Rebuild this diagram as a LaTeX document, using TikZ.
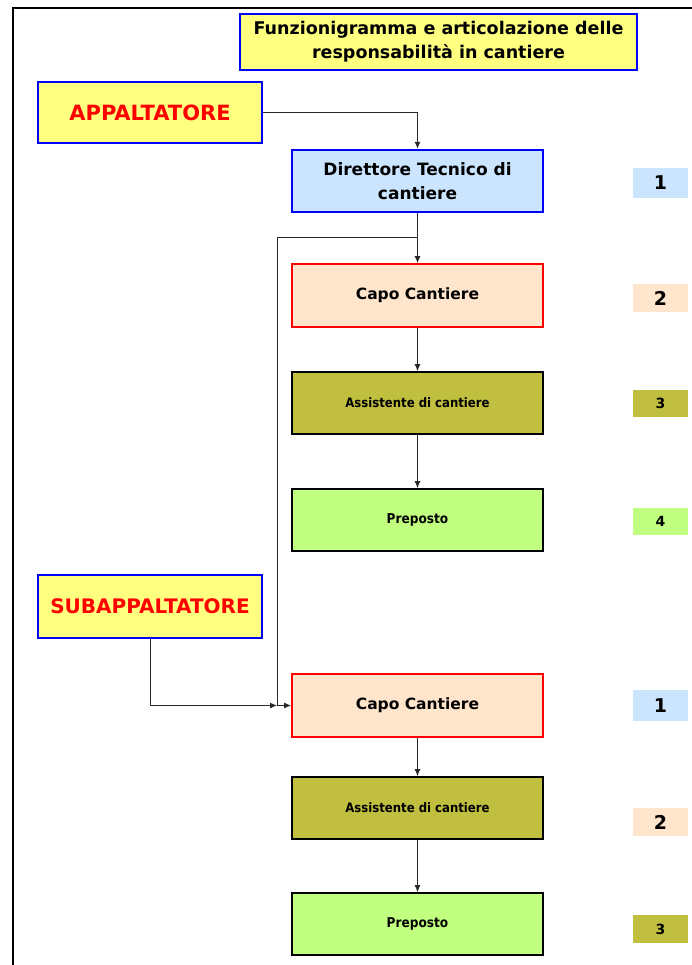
\documentclass[tikz,border=0pt]{standalone}
\usepackage{fontspec}
\setmainfont{DejaVu Sans}
\newfontfamily\condfont{DejaVu Sans Condensed}
\usetikzlibrary{arrows.meta}
\definecolor{ybox}{RGB}{255,255,128}
\definecolor{bblue}{RGB}{0,0,255}
\definecolor{lblue}{RGB}{204,229,255}
\definecolor{peach}{RGB}{255,229,204}
\definecolor{olive}{RGB}{192,191,64}
\definecolor{lgreen}{RGB}{192,255,128}
\definecolor{lnk}{RGB}{40,40,40}
\begin{document}
\begin{tikzpicture}[x=1pt,y=1pt,
  box/.style={draw,minimum width=251pt,minimum height=62pt,inner sep=2pt,align=center,font=\bfseries},
  bluebox/.style={box,draw=bblue,line width=2.6pt,fill=ybox},
  capobox/.style={box,draw=red,line width=1.8pt,fill=peach,minimum height=63pt,font=\bfseries\fontsize{15.5}{18}\selectfont},
  assbox/.style={box,draw=black,line width=1.6pt,fill=olive,font=\condfont\bfseries\fontsize{13}{15}\selectfont},
  prebox/.style={box,draw=black,line width=1.6pt,fill=lgreen,font=\condfont\bfseries\fontsize{13.5}{15}\selectfont},
  badge/.style={minimum width=55pt,inner sep=0pt,font=\bfseries\fontsize{19}{20}\selectfont},
  badges/.style={badge,font=\bfseries\fontsize{14}{16}\selectfont},
  conn/.style={draw=lnk,line width=1pt},
  arr/.style={conn,-{Latex[length=7pt,width=6pt]}}]
\useasboundingbox (0,0) rectangle (692,-965);
\draw[line width=2pt] (13,-965) -- (13,-8) -- (692,-8);
\node[bluebox,minimum width=397pt,minimum height=56pt,font=\bfseries\fontsize{17.5}{24}\selectfont] (title) at (438.5,-42)
  {Funzionigramma e articolazione delle\\responsabilità in cantiere};
\node[bluebox,minimum width=224pt,minimum height=61pt,text=red,font=\bfseries\fontsize{21}{24}\selectfont] (app) at (150,-112.5) {APPALTATORE};
\node[box,draw=bblue,line width=2.4pt,fill=lblue,font=\bfseries\fontsize{17}{24}\selectfont] (dir) at (417.5,-181) {Direttore Tecnico di\\cantiere};
\node[capobox] (cc1) at (417.5,-295.5) {Capo Cantiere};
\node[assbox] (as1) at (417.5,-403) {Assistente di cantiere};
\node[prebox] (pr1) at (417.5,-520) {Preposto};
\node[bluebox,minimum width=224pt,minimum height=63pt,text=red,font=\bfseries\fontsize{20}{24}\selectfont] (sub) at (150,-606.5) {SUBAPPALTATORE};
\node[capobox] (cc2) at (417.5,-705.5) {Capo Cantiere};
\node[assbox] (as2) at (417.5,-808) {Assistente di cantiere};
\node[prebox] (pr2) at (417.5,-924) {Preposto};
\node[badge,fill=lblue,minimum height=30pt] (b1) at (660.5,-183) {1};
\node[badge,fill=peach,minimum height=28pt] (b2) at (660.5,-298) {2};
\node[badges,fill=olive,minimum height=27pt] (b3) at (660.5,-403.5) {3};
\node[badges,fill=lgreen,minimum height=27pt] (b4) at (660.5,-521.5) {4};
\node[badge,fill=lblue,minimum height=31pt] (c1) at (660.5,-705.5) {1};
\node[badge,fill=peach,minimum height=28pt] (c2) at (660.5,-822) {2};
\node[badges,fill=olive,minimum height=28pt] (c3) at (660.5,-929) {3};
\coordinate (br) at (418,-238);
\coordinate (mid) at (277,-705.5);
\draw[arr] (app.east) -| (dir.north);
\draw[arr] (dir.south) -- (cc1.north);
\draw[arr] (br) -| (mid) -- (cc2.west);
\draw[arr] (sub.south) |- (mid);
\draw[arr] (cc1.south) -- (as1.north);
\draw[arr] (as1.south) -- (pr1.north);
\draw[arr] (cc2.south) -- (as2.north);
\draw[arr] (as2.south) -- (pr2.north);
\end{tikzpicture}
\end{document}
